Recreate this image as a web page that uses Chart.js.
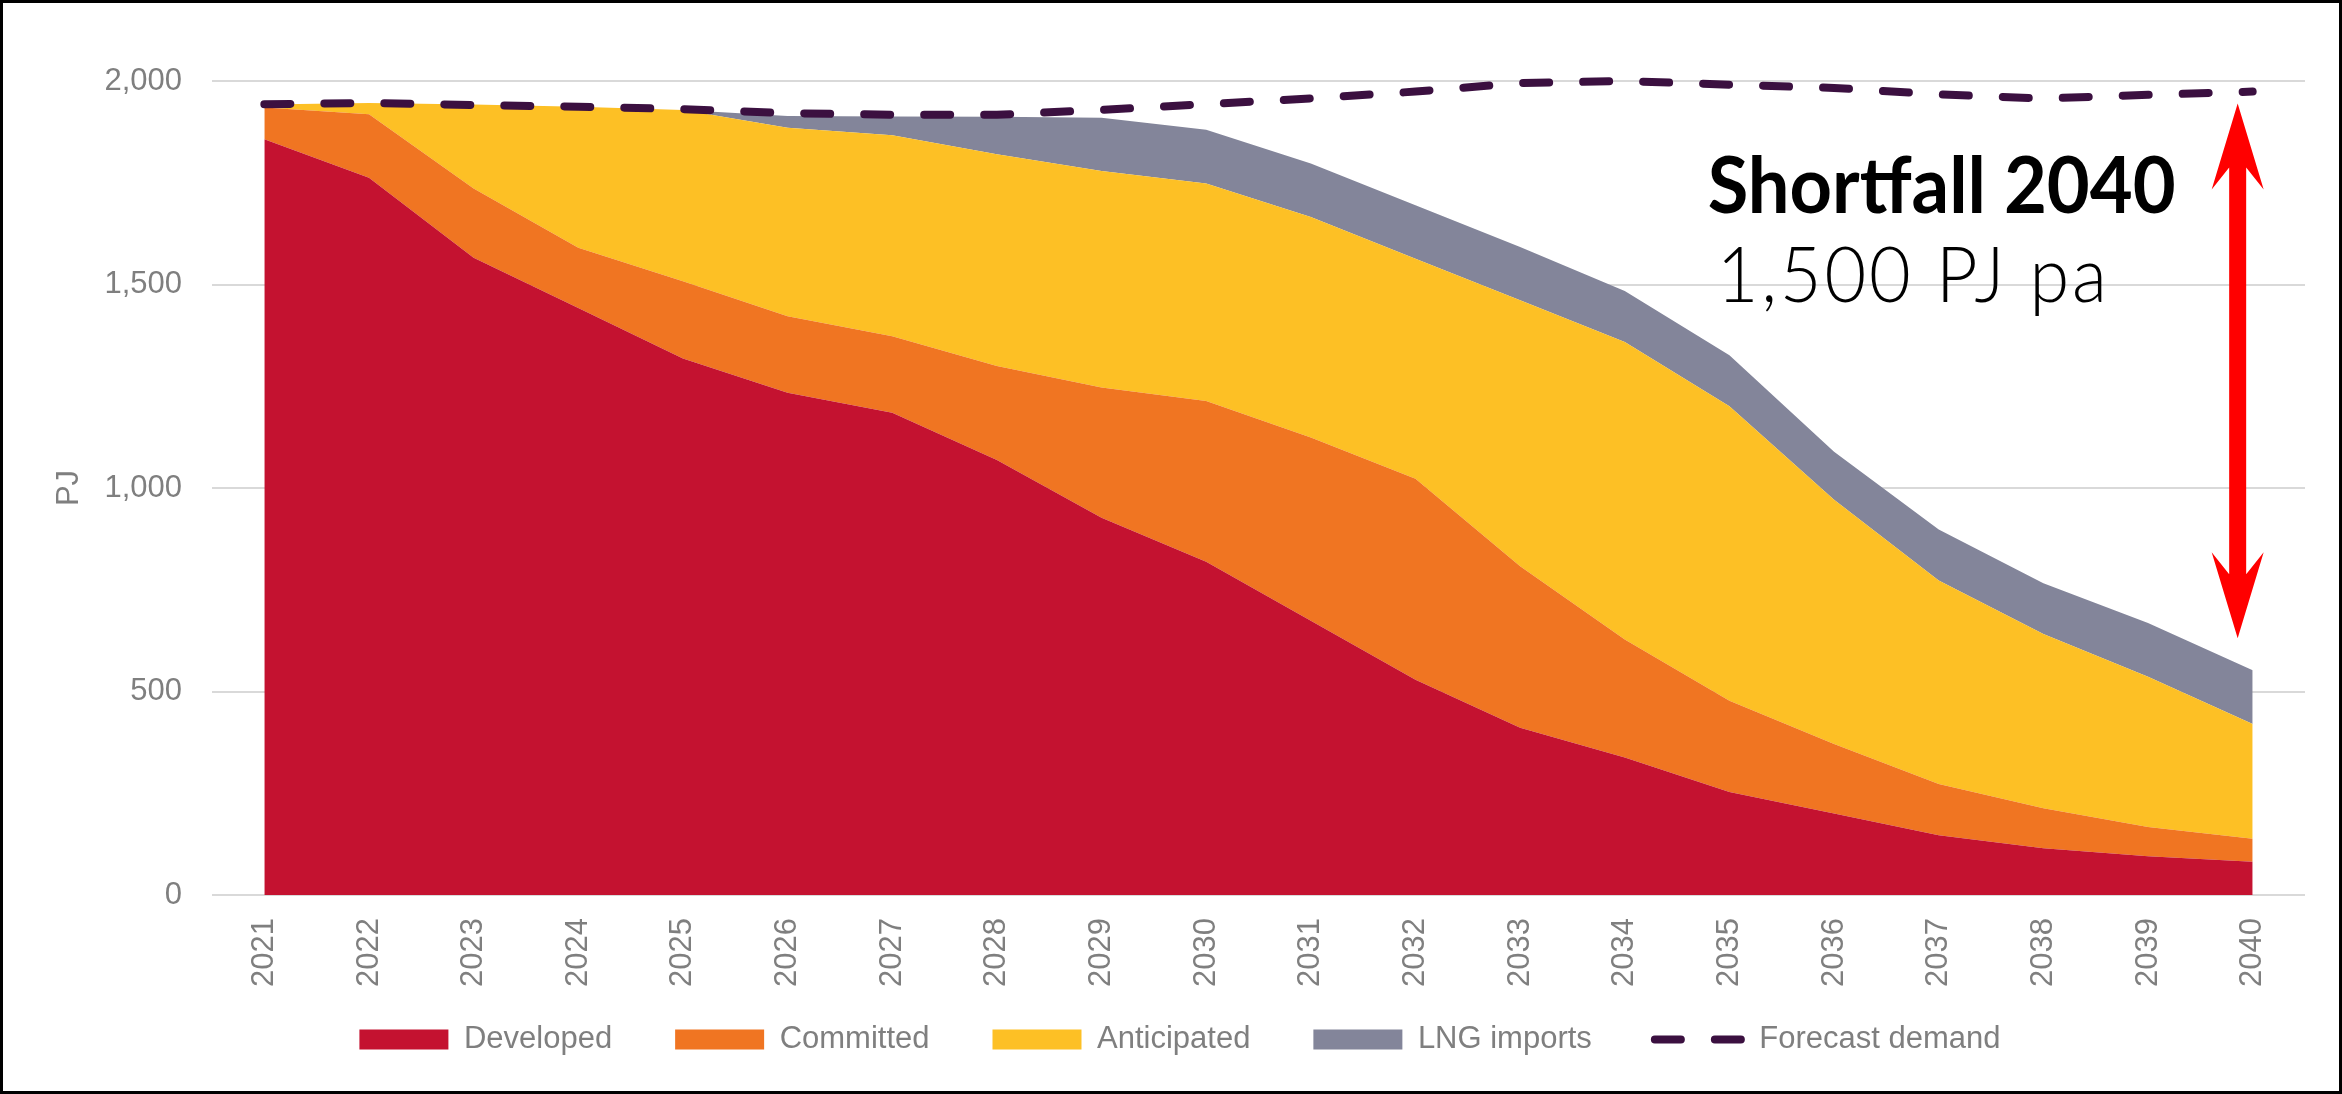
<!DOCTYPE html>
<html><head><meta charset="utf-8">
<script src="https://cdn.jsdelivr.net/npm/chart.js@4"></script>
<style>html,body{margin:0;padding:0;background:#fff;}canvas{display:block;}</style>
</head><body>
<canvas id="c" width="2342" height="1094"></canvas>
<script>
const years = ['2021','2022','2023','2024','2025','2026','2027','2028','2029','2030','2031','2032','2033','2034','2035','2036','2037','2038','2039','2040'];
const developed = [1857,1762,1566,1442,1318,1234,1185,1069,927,819,674,529,411,338,253,200,147,115,95,82];
const committed = [78,156,170,148,190,188,188,231,320,395,450,494,397,290,224,171,126,98,72,56];
const anticipated = [7,28,206,347,421,463,494,520,532,534,542,540,653,731,724,600,500,428,369,282];
const lngImports = [0,0,0,0,0,29,46,92,131,132,131,132,131,125,125,118,125,125,132,132];
const forecastDemand = [1943,1946,1941,1937,1931,1921,1917,1917,1929,1943,1957,1974,1995,2000,1991,1983,1967,1957,1966,1974];
const yAxisTitle = 'PJ';
const shortfallTitle = 'Shortfall 2040';
const shortfallValue = '1,500 PJ pa';

const GRAY = '#7F7F7F';
const FONT = "'Liberation Sans', Arial, sans-serif";

function area(label, data, color) {
  return { label, data, backgroundColor: color, borderColor: color, borderWidth: 0,
    fill: label === 'Developed' ? 'origin' : '-1', pointRadius: 0, tension: 0, stack: 'supply',
    legendStyle: 'rect' };
}

const datasets = [
  area('Developed', developed, '#C41230'),
  area('Committed', committed, '#F07522'),
  area('Anticipated', anticipated, '#FDC025'),
  area('LNG imports', lngImports, '#83859A'),
  { label: 'Forecast demand', data: forecastDemand, borderColor: '#3B1040', backgroundColor: 'rgba(0,0,0,0)',
    borderWidth: 8, borderDash: [26, 34], borderCapStyle: 'round', fill: false, pointRadius: 0,
    tension: 0, stack: 'demand', order: -1, clip: false, legendStyle: 'line' }
];

const legendFix = {
  id: 'legendFix',
  beforeInit(chart) {
    const orig = chart.legend.fit;
    chart.legend.fit = function() { orig.call(this); this.height = 99; };
  },
  afterLayout(chart) {
    chart.legend.top -= 34;
    chart.legend.bottom -= 34;
  }
};

const overlay = {
  id: 'overlay',
  afterDraw(chart) {
    const ctx = chart.ctx, xs = chart.scales.x, ys = chart.scales.y;
    const last = years.length - 1;
    const supplyEnd = developed[last] + committed[last] + anticipated[last] + lngImports[last];
    const ax = xs.getPixelForValue(last) - 15;
    const yTop = ys.getPixelForValue(forecastDemand[last]) + 12;
    const yBot = ys.getPixelForValue(supplyEnd) - 32;
    const hw = 26, sw = 8.5, hl = 86, jl = 64;
    ctx.save();
    ctx.fillStyle = '#FF0000';
    ctx.beginPath();
    ctx.moveTo(ax, yTop);
    ctx.lineTo(ax + hw, yTop + hl);
    ctx.lineTo(ax + sw, yTop + jl);
    ctx.lineTo(ax + sw, yBot - jl);
    ctx.lineTo(ax + hw, yBot - hl);
    ctx.lineTo(ax, yBot);
    ctx.lineTo(ax - hw, yBot - hl);
    ctx.lineTo(ax - sw, yBot - jl);
    ctx.lineTo(ax - sw, yTop + jl);
    ctx.lineTo(ax - hw, yTop + hl);
    ctx.closePath();
    ctx.fill();

    ctx.fillStyle = '#000';
    ctx.textAlign = 'left';
    ctx.textBaseline = 'alphabetic';
    ctx.font = "bold 78px Lato, 'DejaVu Sans', sans-serif";
    ctx.fillText(shortfallTitle, ax - 530, ys.getPixelForValue(1676), 468);
    ctx.font = "300 76px Lato, 'DejaVu Sans', sans-serif";
    if ('letterSpacing' in ctx) ctx.letterSpacing = '3px';
    ctx.fillText(shortfallValue, ax - 521, ys.getPixelForValue(1457), 393);
    if ('letterSpacing' in ctx) ctx.letterSpacing = '0px';

    ctx.strokeStyle = '#000';
    ctx.lineWidth = 3;
    ctx.strokeRect(1.5, 1.5, chart.width - 3, chart.height - 3);
    ctx.restore();
  }
};

new Chart(document.getElementById('c'), {
  type: 'line',
  data: { labels: years, datasets },
  options: {
    responsive: false,
    animation: false,
    devicePixelRatio: 1,
    locale: 'en-US',
    layout: { padding: { left: 55, right: 37, top: 81, bottom: 0 } },
    interaction: { mode: null },
    plugins: {
      tooltip: { enabled: false },
      legend: {
        position: 'bottom',
        labels: {
          font: { family: FONT, size: 31 },
          color: GRAY,
          usePointStyle: true,
          pointStyleWidth: 89,
          boxHeight: 20,
          padding: 63,
          generateLabels(chart) {
            return chart.data.datasets.map((ds, i) => ({
              text: ds.label,
              fillStyle: ds.backgroundColor,
              strokeStyle: ds.borderColor,
              lineWidth: ds.legendStyle === 'line' ? ds.borderWidth : 0,
              lineDash: ds.borderDash || [],
              lineCap: ds.borderCapStyle || 'butt',
              pointStyle: ds.legendStyle,
              fontColor: GRAY,
              hidden: !chart.isDatasetVisible(i),
              datasetIndex: i
            }));
          }
        }
      }
    },
    scales: {
      x: {
        offset: true,
        grid: { display: false, drawTicks: false },
        border: { display: false },
        ticks: { font: { family: FONT, size: 31 }, color: GRAY, minRotation: 90, maxRotation: 90, autoSkip: false, padding: 23 },
        afterFit(scale) { scale.height = 100; }
      },
      y: {
        stacked: true,
        min: 0, max: 2000,
        grid: { color: '#D9D9D9', lineWidth: 2, drawTicks: false },
        border: { display: false },
        ticks: { stepSize: 500, font: { family: FONT, size: 31 }, color: GRAY, padding: 30 },
        title: { display: true, text: yAxisTitle, font: { family: FONT, size: 31 }, color: GRAY, padding: { top: -4, bottom: 0 } },
        afterFit(scale) { scale.width = 157; }
      }
    }
  },
  plugins: [legendFix, overlay]
});
</script>
</body></html>
